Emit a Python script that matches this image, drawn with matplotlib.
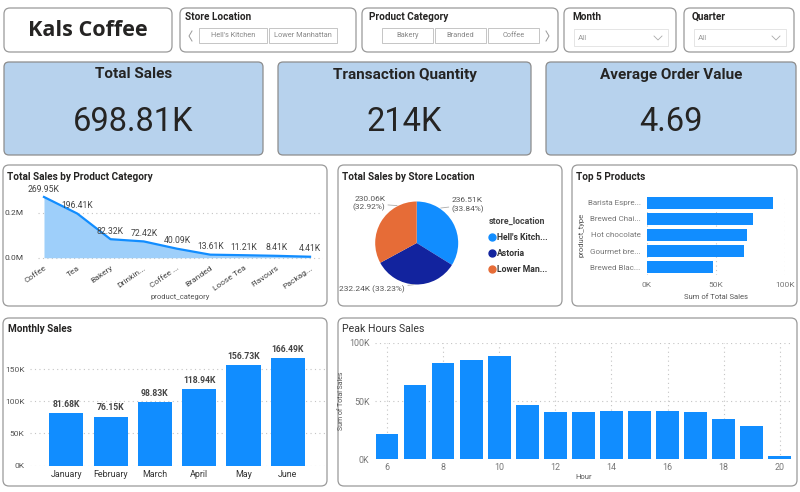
#!/usr/bin/env python3
# -*- coding: utf-8 -*-

import matplotlib
matplotlib.use('Agg')
import matplotlib.pyplot as plt
from matplotlib.patches import FancyBboxPatch, Rectangle
from matplotlib.lines import Line2D
import numpy

W, H = 800, 492
BLUE = '#118dff'
TXT = '#252423'
GREY = '#666666'

# ---- data -------------------------------------------------------------
kpi_titles = ['Total Sales', 'Transaction Quantity', 'Average Order Value']
kpi_values = ['698.81K', '214K', '4.69']

store_buttons = ["Hell's Kitchen", 'Lower Manhattan']
category_buttons = ['Bakery', 'Branded', 'Coffee']

categories = ['Coffee', 'Tea', 'Bakery', 'Drinkin...', 'Coffee ...',
              'Branded', 'Loose Tea', 'Flavours', 'Packag...']
category_sales = [269.95, 196.41, 82.32, 72.42, 40.09, 13.61, 11.21, 8.41, 4.41]   # K

stores = ["Hell's Kitch...", 'Astoria', 'Lower Man...']
store_sales = [236.51, 232.24, 230.06]   # K
store_colors = ['#118dff', '#12239e', '#e66c37']

products = ['Barista Espre...', 'Brewed Chai...', 'Hot chocolate',
            'Gourmet bre...', 'Brewed Blac...']
product_sales = [91.41, 77.08, 72.42, 70.04, 47.93]   # K

months = ['January', 'February', 'March', 'April', 'May', 'June']
month_sales = [81.68, 76.15, 98.83, 118.94, 156.73, 166.49]   # K

hours = [6, 7, 8, 9, 10, 11, 12, 13, 14, 15, 16, 17, 18, 19, 20]
hour_sales = [22.0, 63.6, 82.9, 85.4, 88.9, 46.4, 40.3, 40.4, 41.2,
              41.6, 41.3, 40.4, 34.4, 28.3, 2.9]   # K


def px_axes(fig, x0, y0, x1, y1):
    # axes placed by pixel box (top-left origin)
    ax = fig.add_axes([x0 / W, 1 - y1 / H, (x1 - x0) / W, (y1 - y0) / H])
    ax.set_facecolor('none')
    ax.set_zorder(2)
    return ax


def box(bg, x0, y0, x1, y1, face='white', edge='#9a9a9a', rad=6, lw=0.9):
    bg.add_patch(FancyBboxPatch((x0, y0), x1 - x0, y1 - y0,
                                boxstyle=f'round,pad=0,rounding_size={rad}',
                                fc=face, ec=edge, lw=lw))


def clean(ax, grid_axis='y'):
    for s in ax.spines.values():
        s.set_visible(False)
    ax.tick_params(length=0, colors=GREY, labelsize=6)
    ax.grid(axis=grid_axis, linestyle=(0, (1, 3)), color='#c4c4c4', lw=0.8)
    ax.set_axisbelow(True)


def background(fig):
    bg = fig.add_axes([0, 0, 1, 1])
    bg.set_xlim(0, W)
    bg.set_ylim(H, 0)
    bg.axis('off')
    bg.set_zorder(0)

    # header
    box(bg, 4, 8, 172, 52)
    bg.text(88, 31, 'Kals Coffee', family=['Open Sans', 'DejaVu Sans'],
            weight='bold', fontsize=15.6, color=TXT, ha='center', va='center')

    box(bg, 180, 8, 356, 52)
    bg.text(185, 17, 'Store Location', weight='bold', fontsize=7.2,
            color=TXT, va='center')
    bg.plot([192, 189, 192], [31, 36, 41], color='#999999', lw=0.7)
    for i, name in enumerate(store_buttons):
        x0 = 199 + i * 70
        bg.add_patch(Rectangle((x0, 28), 68, 15, fc='white', ec='#bbbbbb', lw=0.6))
        bg.text(x0 + 34, 35.5, name, fontsize=5.3, color='#888888',
                ha='center', va='center')

    box(bg, 362, 8, 558, 52)
    bg.text(369, 17, 'Product Category', weight='bold', fontsize=7.2,
            color=TXT, va='center')
    for i, name in enumerate(category_buttons):
        x0 = 382 + i * 53
        bg.add_patch(Rectangle((x0, 28), 51, 15, fc='white', ec='#bbbbbb', lw=0.6))
        bg.text(x0 + 25.5, 35.5, name, fontsize=5.3, color='#888888',
                ha='center', va='center')
    bg.plot([546, 549, 546], [31, 36, 41], color='#999999', lw=0.7)

    for (x0, x1, title) in [(564, 676, 'Month'), (684, 794, 'Quarter')]:
        box(bg, x0, 8, x1, 52)
        bg.text(x0 + 8, 17, title, weight='bold', fontsize=7.2, color=TXT, va='center')
        bg.add_patch(Rectangle((x0 + 10, 29), x1 - x0 - 18, 17, fc='white',
                               ec='#e0e0e0', lw=0.6))
        bg.text(x0 + 14, 38, 'All', fontsize=5.8, color='#999999', va='center')
        cx = x1 - 18
        bg.plot([cx - 4, cx, cx + 4], [36, 40, 36], color='#aaaaaa', lw=0.6)

    # KPI cards
    cards = [(4, 263), (278, 531), (546, 796)]
    for (x0, x1), title, value in zip(cards, kpi_titles, kpi_values):
        box(bg, x0, 62, x1, 155, face='#b7d2ed', edge='#8c8c8c', rad=5)
        cx = (x0 + x1) / 2
        bg.text(cx, 74.5, title, weight='bold', fontsize=11, color=TXT,
                ha='center', va='center')
        bg.text(cx, 122, value, fontsize=23.5, color=TXT,
                ha='center', va='center')

    # chart panels
    box(bg, 3, 165, 327, 306)
    box(bg, 338, 165, 562, 306)
    box(bg, 572, 165, 797, 306)
    box(bg, 3, 318, 327, 486)
    box(bg, 338, 318, 797, 486)

    bg.text(7, 177, 'Total Sales by Product Category', weight='bold',
            fontsize=7.2, color=TXT, va='center')
    bg.text(342, 177, 'Total Sales by Store Location', weight='bold',
            fontsize=7.2, color=TXT, va='center')
    bg.text(576, 177, 'Top 5 Products', weight='bold',
            fontsize=7.2, color=TXT, va='center')
    bg.text(8, 329, 'Monthly Sales', weight='bold',
            fontsize=7.2, color=TXT, va='center')
    bg.text(342, 329, 'Peak Hours Sales', fontsize=7.6, color='#333333', va='center')
    return bg


def category_area(fig):
    ax = px_axes(fig, 38, 190, 323, 262)
    x = numpy.arange(len(categories))
    vals = numpy.array(category_sales) / 1000.0
    ax.fill_between(x, vals, color='#9ecffa', lw=0)
    ax.plot(x, vals, color=BLUE, lw=1.6)
    for xi, v in zip(x, category_sales):
        ax.annotate(f'{v:.2f}K', (xi, v / 1000.0), xytext=(0, 2.5),
                    textcoords='offset points', ha='center', va='bottom',
                    fontsize=6.2, color='#444444')
    ax.set_xlim(-0.18, 8.39)
    ax.set_ylim(-0.019, 0.301)
    clean(ax)
    ax.set_yticks([0, 0.2], ['0.0M', '0.2M'])
    ax.set_xticks(x, categories, rotation=35, ha='right', rotation_mode='anchor')
    ax.tick_params(axis='x', pad=2, labelcolor='#444444')
    ax.tick_params(axis='y', pad=10, labelcolor='#444444')
    ax.set_xlabel('product_category', fontsize=5.5, color='#555555')
    ax.xaxis.set_label_coords(0.5, -0.45)


def store_pie(fig):
    ax = px_axes(fig, 375.2, 201.5, 458.2, 284.5)
    ax.pie(store_sales, colors=store_colors, startangle=90, counterclock=False,
           radius=1)
    ax.set_xlim(-1, 1)
    ax.set_ylim(-1, 1)
    total = sum(store_sales)
    # label placement: (text x, text y, ha, edge angle, two lines)
    spots = [(0.84, 0.92, 'left', 57, True),
             (-0.28, -1.12, 'right', -92, False),
             (-0.76, 0.95, 'right', 116, True)]
    for v, (tx, ty, ha, ang, two) in zip(store_sales, spots):
        sep = '\n' if two else ' '
        txt = f'{v:.2f}K{sep}({v / total * 100:.2f}%)'
        a = numpy.radians(ang)
        ax.annotate(txt, (numpy.cos(a), numpy.sin(a)), xytext=(tx, ty),
                    ha=ha, va='center', fontsize=6, color='#555555',
                    linespacing=1.3,
                    arrowprops=dict(arrowstyle='-', color='#aaaaaa', lw=0.6,
                                    shrinkA=0, shrinkB=1))
    handles = [Line2D([], [], marker='o', ls='', color=c, markersize=5)
               for c in store_colors]
    leg = ax.legend(handles, stores, title='store_location', loc='upper left',
                    bbox_to_anchor=(489 / W, 1 - 217 / H),
                    bbox_transform=fig.transFigure, frameon=False,
                    prop={'weight': 'bold', 'size': 6.2},
                    title_fontproperties={'weight': 'bold', 'size': 6.4},
                    alignment='left', handlelength=0.6, handletextpad=0.35,
                    labelspacing=0.8, borderpad=0, borderaxespad=0,
                    labelcolor='#333333')
    leg.get_title().set_color('#444444')


def top_products(fig):
    ax = px_axes(fig, 647, 194.6, 785, 275.4)
    y = numpy.arange(len(products))
    ax.barh(y, numpy.array(product_sales) * 1000, height=0.74, color=BLUE)
    ax.set_ylim(len(products) - 0.5, -0.5)
    ax.set_xlim(0, 100000)
    clean(ax, grid_axis='x')
    ax.set_yticks(y, products)
    ax.set_xticks([0, 50000, 100000], ['0K', '50K', '100K'])
    ax.tick_params(axis='y', pad=4.5, labelsize=5.8, labelcolor='#777777')
    ax.tick_params(axis='x', pad=5, labelsize=6, labelcolor='#777777')
    ax.set_ylabel('product_type', fontsize=5.5, color='#555555')
    ax.yaxis.set_label_coords(-0.45, 0.5)
    ax.set_xlabel('Sum of Total Sales', fontsize=5.5, color='#555555')
    ax.xaxis.set_label_coords(0.5, -0.23)


def monthly(fig):
    ax = px_axes(fig, 30, 340, 325, 465.7)
    x = numpy.arange(len(months))
    bars = ax.bar(x, numpy.array(month_sales) * 1000, width=0.77, color=BLUE)
    for b, v in zip(bars, month_sales):
        ax.annotate(f'{v:.2f}K', (b.get_x() + b.get_width() / 2, b.get_height()),
                    xytext=(0, 3), textcoords='offset points', ha='center',
                    va='bottom', fontsize=6.2, weight='bold', color='#444444')
    ax.set_xlim(-0.82, 5.84)
    ax.set_ylim(0, 195000)
    clean(ax)
    ax.set_yticks([0, 50000, 100000, 150000], ['0K', '50K', '100K', '150K'])
    ax.set_xticks(x, months)
    ax.tick_params(axis='x', pad=3, labelsize=6.4, labelcolor='#333333')
    ax.tick_params(axis='y', pad=4, labelsize=6, labelcolor='#555555')


def peak_hours(fig):
    ax = px_axes(fig, 375, 343, 792, 459.3)
    ax.bar(hours, numpy.array(hour_sales) * 1000, width=0.8, color=BLUE)
    ax.set_xlim(5.565, 20.44)
    ax.set_ylim(0, 100000)
    clean(ax, grid_axis='both')
    ax.set_xticks(range(6, 21, 2))
    ax.set_yticks([0, 50000, 100000], ['0K', '50K', '100K'])
    ax.tick_params(axis='x', pad=3, labelsize=6.4, labelcolor='#777777')
    ax.tick_params(axis='y', pad=4, labelsize=6.4, labelcolor='#777777')
    ax.set_xlabel('Hour', fontsize=5.5, color='#555555')
    ax.xaxis.set_label_coords(0.5, -0.13)
    ax.set_ylabel('Sum of Total Sales', fontsize=5, color='#555555')
    ax.yaxis.set_label_coords(-0.072, 0.5)


def main():
    plt.rcParams['font.family'] = ['Roboto', 'DejaVu Sans']
    fig = plt.figure(figsize=(W / 100, H / 100), dpi=100)
    fig.patch.set_facecolor('white')
    background(fig)
    category_area(fig)
    store_pie(fig)
    top_products(fig)
    monthly(fig)
    peak_hours(fig)
    fig.savefig('out.png', dpi=100)
    plt.close(fig)


if __name__ == '__main__':
    main()
